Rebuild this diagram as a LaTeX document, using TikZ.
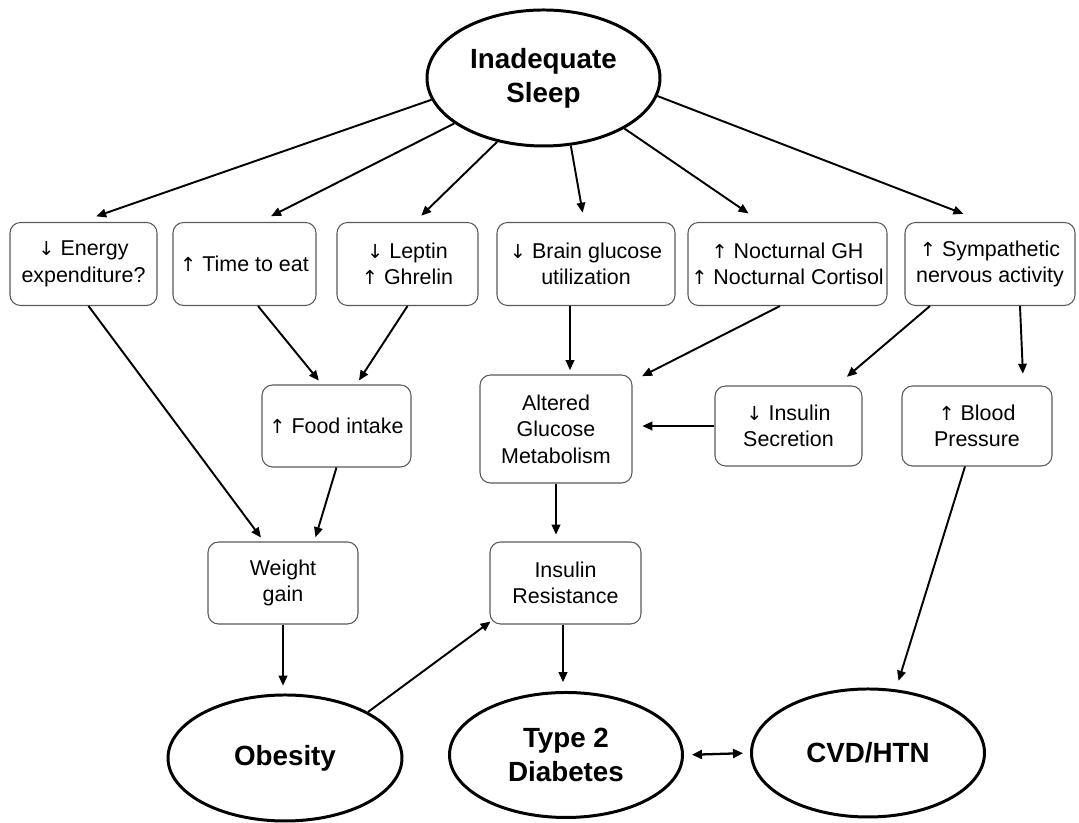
\documentclass[tikz,border=0pt]{standalone}
\usepackage{fontspec}
\setmainfont{Liberation Sans}
\newfontfamily\arrowfont[Scale=0.9]{DejaVu Sans}
\newcommand{\arrup}{{\arrowfont ↑}}
\newcommand{\arrdn}{{\arrowfont ↓}}
\usetikzlibrary{arrows.meta, shapes.geometric, calc}

\begin{document}
\begin{tikzpicture}[
    box/.style={draw=black!65, line width=0.6pt, rounded corners=6pt, align=center,
                inner sep=1pt, font=\fontsize{12.2}{15}\selectfont},
    oval/.style={ellipse, draw, line width=1.7pt, align=center, inner sep=0pt,
                 font=\bfseries\fontsize{15.8}{19.5}\selectfont},
    link/.style={line width=1.1pt, -{Triangle[length=2mm,width=1.7mm]}, shorten >=1pt}]

\useasboundingbox (0,0) rectangle (21.58,16.46);

% Cause
\node[oval, minimum width=4.66cm, minimum height=2.72cm] (sleep) at (10.87,14.9) {Inadequate\\Sleep};

% Premier niveau
\node[box, minimum width=2.94cm, minimum height=1.66cm] (energy) at (1.67,11.18) {\arrdn\ Energy\\expenditure?};
\node[box, minimum width=2.86cm, minimum height=1.66cm] (time)   at (4.89,11.18) {\arrup\ Time to eat};
\node[box, minimum width=2.82cm, minimum height=1.66cm] (leptin) at (8.15,11.18) {\arrdn\ Leptin\\\arrup\ Ghrelin};
\node[box, minimum width=3.56cm, minimum height=1.66cm] (brain)  at (11.72,11.18) {\arrdn\ Brain glucose\\utilization};
\node[box, minimum width=3.98cm, minimum height=1.66cm] (noct)   at (15.75,11.18) {\arrup\ Nocturnal GH\\\arrup\ Nocturnal Cortisol};
\node[box, minimum width=3.40cm, minimum height=1.66cm] (symp)   at (19.80,11.18) {\arrup\ Sympathetic\\nervous activity};

% Deuxieme niveau
\node[box, minimum width=2.98cm, minimum height=1.64cm] (food)    at (6.73,7.94)  {\arrup\ Food intake};
\node[box, minimum width=3.04cm, minimum height=2.16cm] (altered) at (11.12,7.88) {Altered\\Glucose\\Metabolism};
\node[box, minimum width=2.94cm, minimum height=1.60cm] (insec)   at (15.77,7.94) {\arrdn\ Insulin\\Secretion};
\node[box, minimum width=3.00cm, minimum height=1.60cm] (bp)      at (19.54,7.94) {\arrup\ Blood\\Pressure};

% Troisieme niveau
\node[box, minimum width=3.00cm, minimum height=1.64cm] (weight) at (5.66,4.8)  {Weight\\gain};
\node[box, minimum width=3.02cm, minimum height=1.64cm] (insres) at (11.31,4.8) {Insulin\\Resistance};

% Issues
\node[oval, minimum width=4.68cm, minimum height=2.52cm] (obesity) at (5.70,1.30)  {Obesity};
\node[oval, minimum width=4.66cm, minimum height=2.50cm] (type2)   at (11.32,1.36) {Type 2\\Diabetes};
\node[oval, minimum width=4.66cm, minimum height=2.56cm] (cvd)     at (17.36,1.40) {CVD/HTN};

% Fleches depuis le sommeil
\draw[link] (sleep.191) -- ([xshift=2.2mm,yshift=1mm]energy.north);
\draw[link] (sleep.207) -- ([xshift=5mm,yshift=1mm]time.north);
\draw[link] (sleep.234) -- ([xshift=2.5mm,yshift=1mm]leptin.north);
\draw[link] (sleep.292) -- ([xshift=-0.6mm,yshift=1.5mm]brain.north);
\draw[link] (sleep.328) -- ([xshift=-7.5mm,yshift=1.5mm]noct.north);
\draw[link] (sleep.351) -- ([xshift=-5mm,yshift=1.5mm]symp.north);

% Niveaux intermediaires
\draw[link] ([xshift=1mm]energy.south) -- ([xshift=-4.2mm,yshift=0.5mm]weight.north);
\draw[link] ([xshift=2.7mm]time.south) -- ([xshift=-3.3mm,yshift=0.5mm]food.north);
\draw[link] (leptin.south) -- ([xshift=4.3mm,yshift=0.5mm]food.north);
\draw[link] (food.south) -- ([xshift=6.4mm,yshift=0.5mm]weight.north);
\draw[link] ([xshift=-3.2mm]brain.south) -- ([xshift=2.8mm,yshift=0.5mm]altered.north);
\draw[link] ([xshift=-1.5mm]noct.south) -- ([xshift=1.6mm,yshift=-0.5mm]altered.north east);
\draw[link] ([xshift=-1.2cm]symp.south) -- ([xshift=1.14cm,yshift=1.5mm]insec.north);
\draw[link] ([xshift=0.6cm]symp.south) -- ([xshift=0.92cm,yshift=2mm]bp.north);
\draw[link] (insec.west) -- ([xshift=1.6mm]altered.east |- insec.west);
\draw[link] (altered.south) -- ([yshift=1mm]altered.south |- insres.north);

% Vers les issues
\draw[link] (weight.south) -- ([yshift=1.2mm]weight.south |- obesity.north);
\draw[link] (obesity.29) -- ([xshift=0.5mm,yshift=0.8mm]insres.south west);
\draw[link] ([xshift=-0.5mm]insres.south) -- ([xshift=-0.5mm,yshift=1.4mm]insres.south |- type2.north);
\draw[link] ([xshift=-2.4mm]bp.south) -- ([xshift=6mm,yshift=1mm]cvd.north);
\draw[line width=1.3pt, {Triangle[length=2mm,width=1.8mm]}-{Triangle[length=2mm,width=1.8mm]},
      shorten <=1.6mm, shorten >=1.4mm] (type2.east) -- (cvd.west);

\end{tikzpicture}
\end{document}
